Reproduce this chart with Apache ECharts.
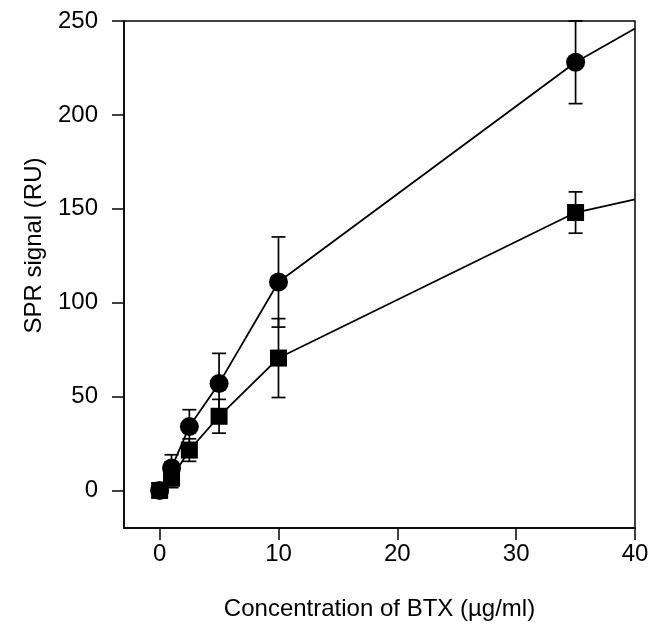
<!DOCTYPE html>
<html>
<head>
<meta charset="utf-8">
<script src="https://cdn.jsdelivr.net/npm/echarts@6/dist/echarts.min.js"></script>
<style>
html,body{margin:0;padding:0;background:#fff;}
#chart{width:663px;height:628px;}
</style>
</head>
<body>
<div id="chart"></div>
<script>
// Concentrations of BTX (µg/ml)
const concentrations = [0, 1, 2.5, 5, 10, 35];
// Circle series (upper)
const circleValues = [0, 12, 34, 57, 111, 228];
const circleErrors = [0, 7, 9, 16, 24, 22];
// Square series (lower)
const squareValues = [0, 6.5, 21.5, 39.5, 70.5, 148];
const squareErrors = [0, 5, 6, 9, 21, 11];
// Curve continuation to the axis end
const curveEndX = 40;
const circleCurveEnd = 246;
const squareCurveEnd = 155;
// Tick labels
const xTicks = [0, 10, 20, 30, 40];
const yTicks = [0, 50, 100, 150, 200, 250];

const fontFamily = '"Liberation Sans", Arial, sans-serif';

function pts(xs, ys) { return xs.map((x, i) => [x, ys[i]]); }
function errData(xs, ys, es) { return xs.map((x, i) => [x, ys[i] - es[i], ys[i] + es[i]]); }

const circleLine = pts(concentrations, circleValues).concat([[curveEndX, circleCurveEnd]]);
const squareLine = pts(concentrations, squareValues).concat([[curveEndX, squareCurveEnd]]);

function renderErr(params, api) {
  const x = api.value(0);
  const lo = api.coord([x, api.value(1)]);
  const hi = api.coord([x, api.value(2)]);
  const cap = 7;
  const style = { stroke: '#000', lineWidth: 1.7 };
  if (Math.abs(hi[1] - lo[1]) < 1) return { type: 'group', children: [] };
  return {
    type: 'group',
    children: [
      { type: 'line', shape: { x1: lo[0], y1: lo[1], x2: hi[0], y2: hi[1] }, style: style },
      { type: 'line', shape: { x1: lo[0] - cap, y1: lo[1], x2: lo[0] + cap, y2: lo[1] }, style: style },
      { type: 'line', shape: { x1: hi[0] - cap, y1: hi[1], x2: hi[0] + cap, y2: hi[1] }, style: style }
    ]
  };
}

const chart = echarts.init(document.getElementById('chart'), null, { renderer: 'canvas' });
chart.setOption({
  animation: false,
  backgroundColor: '#fff',
  grid: {
    left: 124, right: 28, top: 21, bottom: 100,
    show: true, borderColor: '#000', borderWidth: 1.5, backgroundColor: 'transparent'
  },
  xAxis: {
    type: 'value', min: -3, max: 40,
    name: 'Concentration of BTX (\u00b5g/ml)',
    nameLocation: 'middle', nameGap: 69,
    nameTextStyle: { color: '#000', fontSize: 24, fontFamily: fontFamily },
    axisLine: { show: true, onZero: false, lineStyle: { color: '#000', width: 1.5 } },
    axisTick: { show: true, inside: false, length: 12, customValues: xTicks, lineStyle: { color: '#000', width: 1.5 } },
    axisLabel: { customValues: xTicks, margin: 14, color: '#000', fontSize: 24, fontFamily: fontFamily },
    splitLine: { show: false }
  },
  yAxis: {
    type: 'value', min: -20, max: 250,
    name: 'SPR signal (RU)',
    nameLocation: 'middle', nameGap: 78, nameRotate: 90,
    nameTextStyle: { color: '#000', fontSize: 24, fontFamily: fontFamily, padding: [0, 0, 0, 58] },
    axisLine: { show: true, onZero: false, lineStyle: { color: '#000', width: 1.5 } },
    axisTick: { show: true, inside: false, length: 12, customValues: yTicks, lineStyle: { color: '#000', width: 1.5 } },
    axisLabel: { customValues: yTicks, margin: 26, color: '#000', fontSize: 24, fontFamily: fontFamily },
    splitLine: { show: false }
  },
  series: [
    { name: 'circle curve', type: 'line', data: circleLine, showSymbol: false, symbol: 'none',
      lineStyle: { color: '#000', width: 1.8 }, z: 1, silent: true },
    { name: 'square curve', type: 'line', data: squareLine, showSymbol: false, symbol: 'none',
      lineStyle: { color: '#000', width: 1.8 }, z: 1, silent: true },
    { name: 'circle error', type: 'custom', renderItem: renderErr,
      data: errData(concentrations, circleValues, circleErrors), z: 2, silent: true },
    { name: 'square error', type: 'custom', renderItem: renderErr,
      data: errData(concentrations, squareValues, squareErrors), z: 2, silent: true },
    { name: 'circle', type: 'scatter', data: pts(concentrations, circleValues),
      symbol: 'circle', symbolSize: 19, itemStyle: { color: '#000', opacity: 1 }, z: 3 },
    { name: 'square', type: 'scatter', data: pts(concentrations, squareValues),
      symbol: 'rect', symbolSize: 17, itemStyle: { color: '#000', opacity: 1 }, z: 4 }
  ]
});
</script>
</body>
</html>
